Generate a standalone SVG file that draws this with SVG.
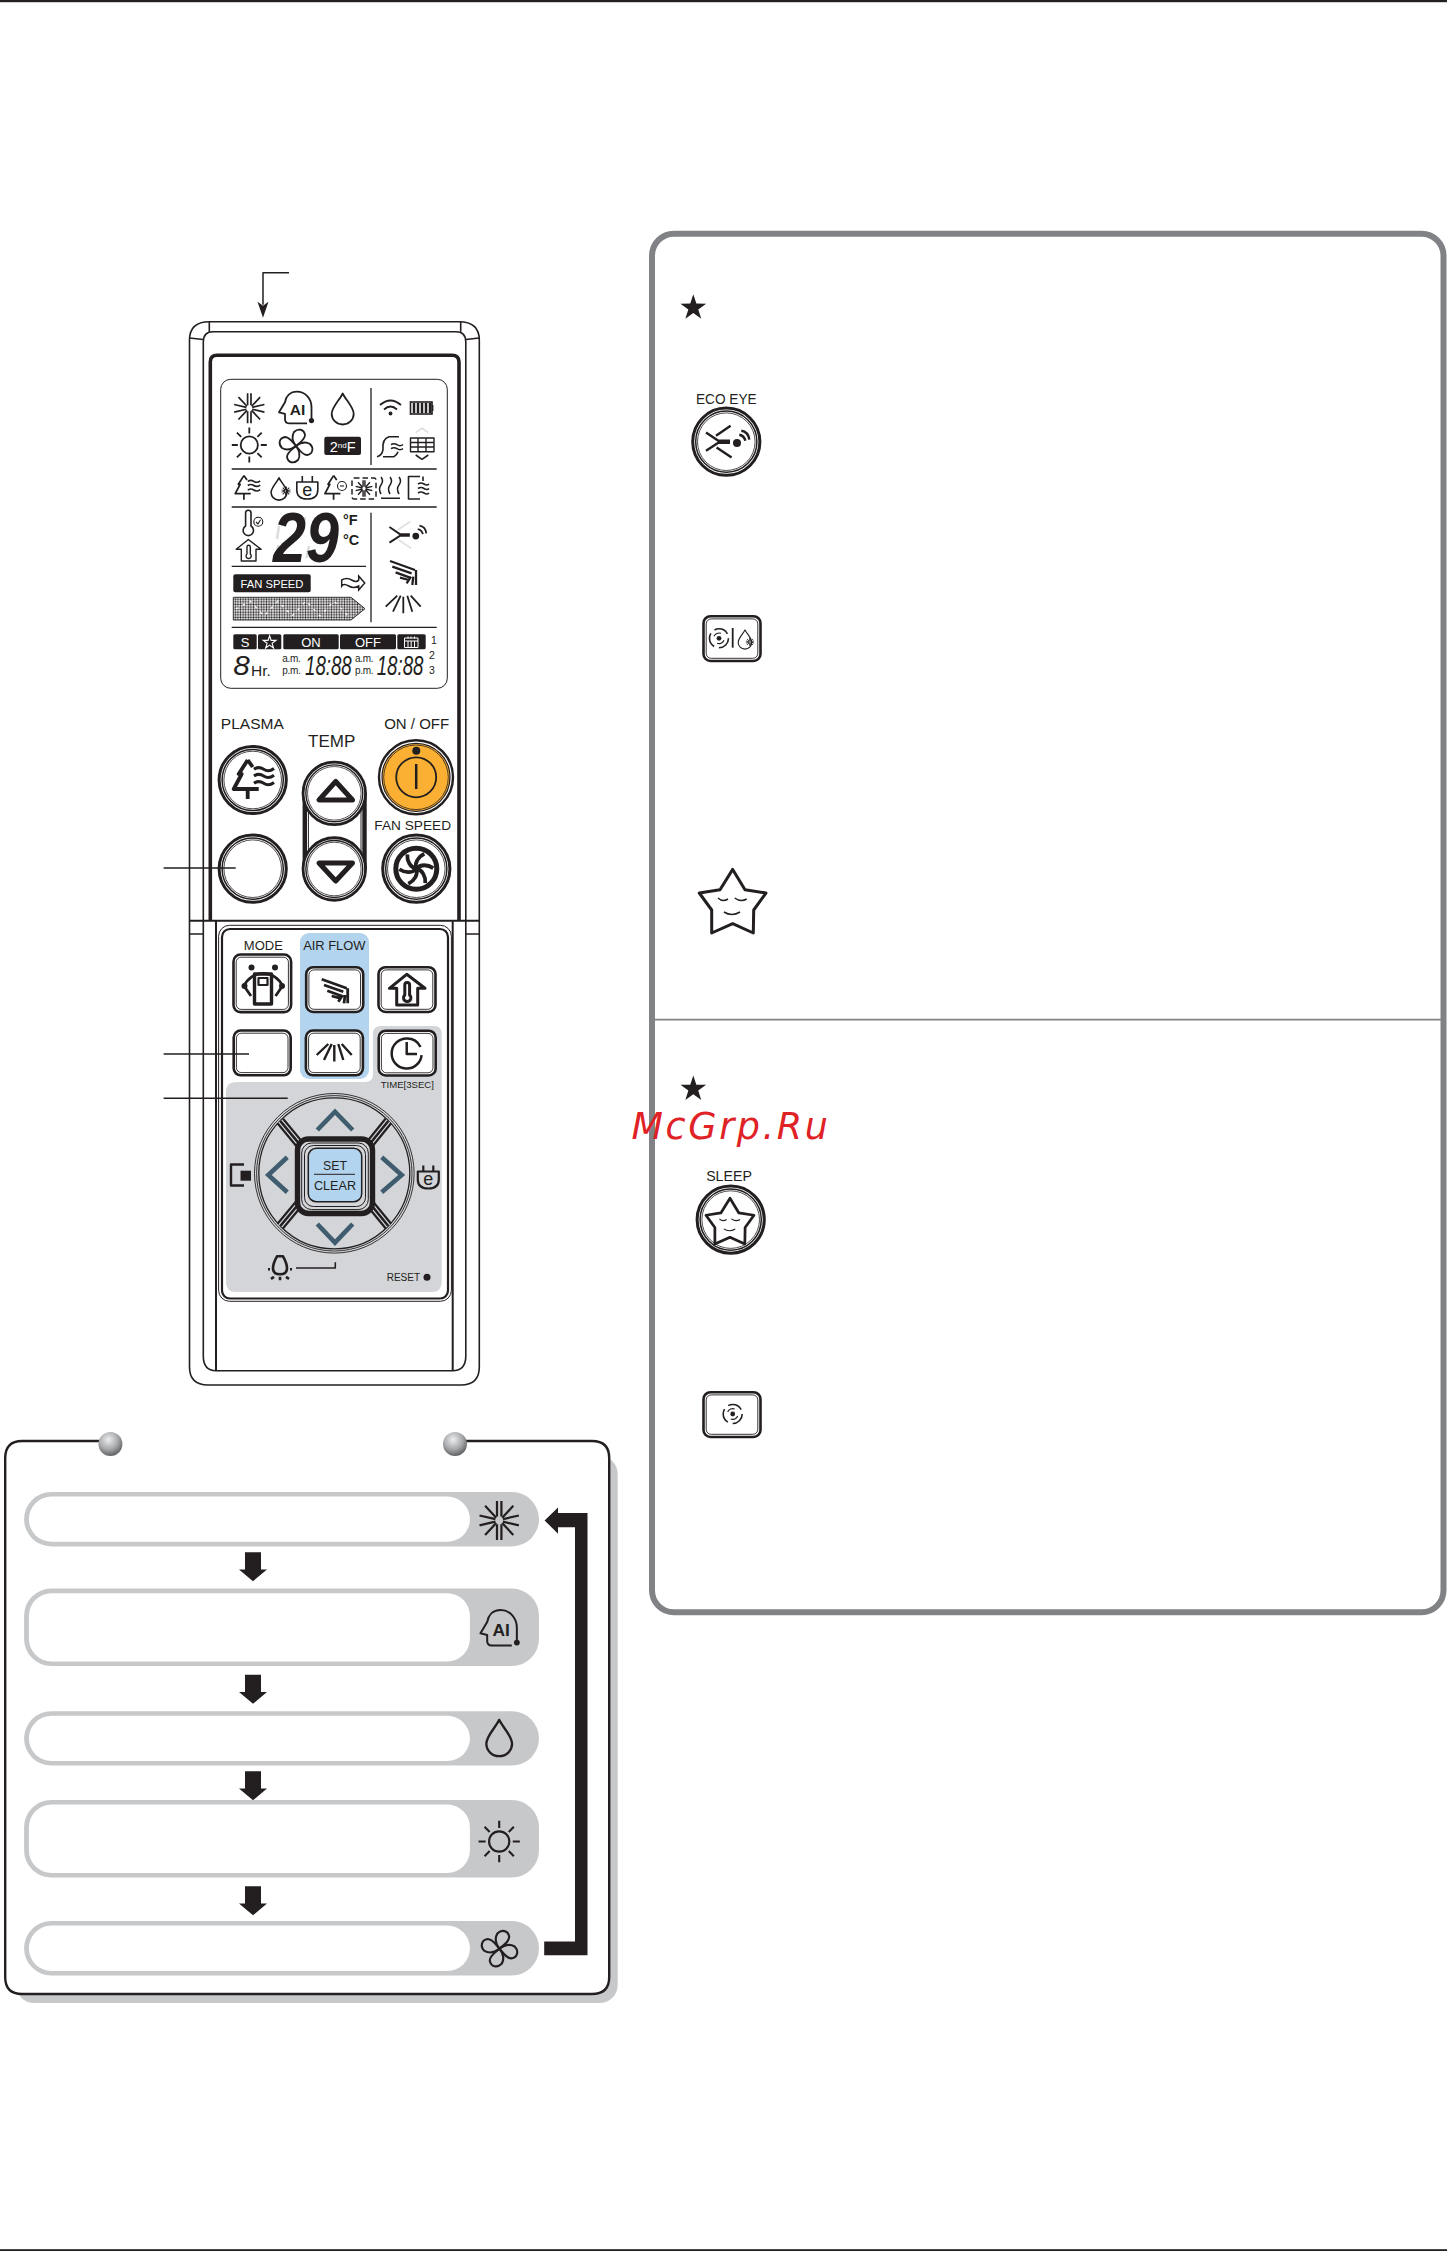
<svg xmlns="http://www.w3.org/2000/svg" xmlns:xlink="http://www.w3.org/1999/xlink" width="1447" height="2251" viewBox="0 0 1447 2251">
<style>
.k{fill:none;stroke:#231f20;stroke-width:1.8;stroke-linecap:butt;stroke-linejoin:round}
.w{fill:#fff;stroke:#231f20;stroke-width:1.6}
.t{font-family:"Liberation Sans",Arial,sans-serif;fill:#231f20;stroke:none;text-anchor:middle}
.tw{font-family:"Liberation Sans",Arial,sans-serif;fill:#fff;stroke:none;text-anchor:middle}
.ts{font-family:"Liberation Sans",Arial,sans-serif;fill:#231f20;stroke:none}
.bk{fill:#231f20;stroke:none}
.pg{fill:#c7c8ca;stroke:none}
.pw{fill:#fff;stroke:none}
.ch{fill:none;stroke:#3f5d6e;stroke-width:4.6}
.fa{fill:none;stroke:#dcddde;stroke-width:1.6}
</style>
<defs>
<radialGradient id="ball" cx="0.42" cy="0.32" r="0.72"><stop offset="0" stop-color="#eeeeee"/><stop offset="0.55" stop-color="#a7a9ac"/><stop offset="1" stop-color="#58595b"/></radialGradient>
<pattern id="dots" width="2.6" height="2.6" patternUnits="userSpaceOnUse"><rect width="2.6" height="2.6" fill="#fff"/><circle cx="1.3" cy="1.3" r="1" fill="#231f20"/></pattern>
<marker id="tip" viewBox="0 -6 16 12" markerWidth="16" markerHeight="12" refX="3" refY="0" orient="auto" markerUnits="userSpaceOnUse"><path d="M0 -5.5L4 0L0 5.5L16 0Z" fill="#231f20"/></marker>
<path id="downArrow" d="M-8 0H8V17.2H14L0 29L-14 17.2H-8Z" fill="#231f20"/>
<g id="ring"><circle r="33.6" fill="#fff" stroke="#231f20" stroke-width="3"/><circle r="30.6" fill="none" stroke="#231f20" stroke-width="1.5"/><circle r="28.8" fill="none" stroke="#231f20" stroke-width="0.8"/></g>
<g id="btn"><rect x="1.2" y="1.2" width="57" height="44.8" rx="7" fill="#fff" stroke="#231f20" stroke-width="2.6"/><rect x="3.9" y="3.9" width="51.6" height="39.4" rx="5" fill="none" stroke="#231f20" stroke-width="0.9"/></g>
<g id="snow"><path d="M-1.7 -15V-3M1.7 -15V-3M-1.7 15V3M1.7 15V3"/><g id="arm" transform="rotate(60)"><path d="M-0.6 -3L-4.3 -15M0.6 -3L4.3 -15M-0.6 3L-4.3 15M0.6 3L4.3 15"/></g><g transform="rotate(120)"><path d="M-0.6 -3L-4.3 -15M0.6 -3L4.3 -15M-0.6 3L-4.3 15M0.6 3L4.3 15"/></g></g>
<g id="ai"><path d="M15.5 12V-1C15.5 -10 9 -16.7 1 -16.7C-6 -16.7 -10 -12 -11 -6L-17 4L-11 5.5V11Q-11 15 -7 15H11"/><circle cx="15.5" cy="12.3" r="2.6" fill="#231f20" stroke="none"/><text class="t" x="1.5" y="6.5" font-size="15.5" font-weight="bold">AI</text></g>
<path id="drop" d="M0 -15.5C3 -9 11 -2 11 5A11 10.5 0 0 1 -11 5C-11 -2 -3 -9 0 -15.5Z"/>
<g id="sun"><circle r="8.6"/><path d="M0 -11.5V-17.5M0 11.5V17.5M-11.5 0H-17.5M11.5 0H17.5M8.1 -8.1L12.4 -12.4M-8.1 -8.1L-12.4 -12.4M8.1 8.1L12.4 12.4M-8.1 8.1L-12.4 12.4"/></g>
<g id="fan"><g id="petal"><path d="M0 0C-3 -4 -5 -9 -2 -14C2 -18 8 -17 9 -11C9 -6 3 -3 0 0Z"/></g><use xlink:href="#petal" transform="rotate(90)"/><use xlink:href="#petal" transform="rotate(180)"/><use xlink:href="#petal" transform="rotate(270)"/></g>
<g id="ecoflow"><path d="M-20.3 -9.3L-8 -1H3.7M-20.3 9L-8 1H3.7"/><circle cx="10.7" cy="1.3" r="4" fill="#231f20" stroke="none"/><path d="M13 -7Q18 -6 19 -1M15 -11Q22 -10 23 -2"/></g>
<g id="swH"><path d="M-13.3 -10.7L11.7 -1.7M-11 -5L8.3 1.7M-7.7 0.7L6.7 6M-3.3 6L5.7 8.3M3.3 11.7L7.7 5M9 13.3L10 5M12.7 13.3V-1.7"/></g>
<g id="swV"><path d="M-18.3 1.7L-6.7 -9.3M-11 6.7L-3.3 -9.3M-0.7 8.3V-8.3M8.3 6.7L3.3 -9.3M16.7 1.7L6.7 -9.3"/></g>
<g id="tree"><path d="M-5 -20L-14 -6H-11L-19 9H6M-5 -20L0 -13M-5 9V19"/></g>
<g id="waves"><path d="M1.3 -10.7Q6 -14 11 -10.7T21.3 -11.5M1.3 -4Q6 -7.3 11 -4T21.3 -4.8M1.3 3.3Q6 0 11 3.3T21.3 2.5"/></g>
<g id="house"><path d="M-17.3 -1.7L0 -15.7L18.3 -1.7H11V15H-10V-1.7Z"/><path transform="translate(0.5 0)" d="M-2.4 5V-5Q-2.4 -7.5 0 -7.5Q2.4 -7.5 2.4 -5V5A3.7 3.7 0 1 1 -2.4 5Z"/></g>
<g id="plug"><path d="M-10.5 -6H10.5V2Q10.5 11 0 11Q-10.5 11 -10.5 2ZM-5 -6V-12M5 -6V-12"/><text class="t" x="0" y="7.5" font-size="18">e</text></g>
<g id="swirl"><circle r="9.5" stroke-dasharray="14.9 5"/><path stroke-width="1.1" d="M-5 -2A5.5 5.5 0 0 1 2 -5M5 2A5.5 5.5 0 0 1 -2 5"/><circle r="2.4" fill="#231f20" stroke="none"/></g>
<g id="sstar"><path d="M0 -31.6L12.3 -11.2L33.3 -8L21 9L20.6 32L0 22.7L-21 32L-21 9L-33.4 -8L-12.7 -11.2Z"/><path stroke-width="1.5" d="M-14.7 -3Q-10 1.5 -4.7 -2M2 -3Q8 1.5 14 -2M-8.7 11Q-1 16 7.3 11"/></g>
<path id="bstar" d="M0 -13.5L3.06 -4.21L12.84 -4.17L4.95 1.61L7.94 10.92L0 5.2L-7.94 10.92L-4.95 1.61L-12.84 -4.17L-3.06 -4.21Z" fill="#231f20"/>
</defs>
<rect width="1447" height="2251" fill="#fff"/>
<rect id="page-top" x="0" y="0" width="1447" height="2.2" fill="#231f20"/>
<rect id="page-bottom" x="0" y="2249.2" width="1447" height="1.8" fill="#231f20"/>

<g id="remote-body">
<path class="w" d="M189.5 1367V340Q189.5 321.7 209.3 321.7H459Q479.3 321.7 479.3 340V1367Q479.3 1385 461 1385H208Q189.5 1385 189.5 1367Z"/>
<path class="k" style="stroke-width:1.6" d="M203.3 1356V342Q203.3 331.7 213 331.7H456Q465.8 331.7 465.8 342V1356Q465.8 1370.7 452.7 1370.7H216Q203.3 1370.7 203.3 1356ZM209.3 321.7V331.7M460.7 321.7V331.7M189.5 338L203.3 339.5M465.8 339.5L479.3 338M189.5 934H203.3M465.8 934H479.3"/>
<path class="k" style="stroke-width:2" d="M216 920.7V1370.7M452.7 920.7V1370.7M189.5 920.7H479.3"/>
<path class="k" style="stroke-width:3.6" d="M210.3 920V362Q210.3 355.2 217 355.2H452Q459 355.2 459 362V920"/>
</g>

<g id="lcd">
<rect x="220.7" y="379.3" width="226.6" height="309" rx="10" fill="#fff" stroke="#231f20" stroke-width="1"/>
<path class="k" style="stroke-width:1.3" d="M371 388V465M231.7 469H436.7M231.7 507H436.7M371 512.7V622.3M231.7 566.3H366M231.7 627.3H436.7"/>
<use xlink:href="#snow" class="k" style="stroke-width:1.7" transform="translate(249.3 408.3)"/>
<use xlink:href="#ai" class="k" transform="translate(296 408.3)"/>
<use xlink:href="#drop" class="k" transform="translate(342.7 409)"/>
<use xlink:href="#sun" class="k" transform="translate(249.3 445)"/>
<use xlink:href="#fan" class="k" transform="translate(296 446)"/>
<rect class="bk" x="324.3" y="436.7" width="36.7" height="18.3" rx="2"/>
<text class="tw" x="342.7" y="452" font-size="14.5">2<tspan font-size="8" dy="-4.5">nd</tspan><tspan dy="4.5">F</tspan></text>
<g id="lcd-wifi"><path class="k" d="M380 405Q390.5 396 401 405M384 409.5Q390.5 403.5 397 409.5"/><circle class="bk" cx="390.5" cy="413.5" r="1.9"/></g>
<g id="lcd-battery"><rect x="410.5" y="402" width="21.5" height="12" fill="none" stroke="#231f20" stroke-width="1.6"/><path class="k" style="stroke-width:2.5" d="M414 403V413M418 403V413M422 403V413M426 403V413M430 403V413"/><rect class="bk" x="432" y="405" width="1.4" height="6"/></g>
<g id="lcd-leaf" transform="translate(390 446.7)"><path class="k" style="stroke-width:1.6" d="M-13 10Q-8 9 -7 3Q-8 -8 -1 -10H9M-7 10H4Q7 8 8 5M1 -2Q4 -4 7 -2T13 -2M1 2Q4 0 7 2T13 2"/></g>
<g id="lcd-grid"><path class="k" style="stroke-width:1.4" d="M410.5 438H434V451.7H410.5ZM410.5 442.5H434M410.5 447H434M418 438V451.7M426 438V451.7"/><path class="k" style="stroke-width:1.6" d="M415.7 455L422 459.3L428.3 455"/><path class="fa" d="M415.7 432.7L422 428.3L428.3 432.7"/></g>
<g id="lcd-plasma" transform="translate(247 488) scale(.62)"><use xlink:href="#tree" class="k" style="stroke-width:2.8"/><use xlink:href="#waves" class="k" style="stroke-width:2.6"/></g>
<g id="lcd-dropstar"><use xlink:href="#drop" class="k" style="stroke-width:2.2" transform="translate(279 489) scale(.72)"/><use xlink:href="#snow" class="k" style="stroke-width:3" transform="translate(286 491) scale(.3)"/></g>
<use xlink:href="#plug" class="k" style="stroke-width:1.6" transform="translate(307.3 488)"/>
<g id="lcd-treeminus"><use xlink:href="#tree" class="k" style="stroke-width:2.8" transform="translate(336.7 488) scale(.62)"/><circle cx="342" cy="486" r="4.5" fill="none" stroke="#231f20" stroke-width="1.1"/><path class="k" style="stroke-width:1.1" d="M340 486H344"/></g>
<g id="lcd-snowbox"><rect x="352" y="478" width="24" height="21" rx="2" fill="none" stroke="#231f20" stroke-width="1.5" stroke-dasharray="5.5 3"/><use xlink:href="#snow" class="k" style="stroke-width:2.6" transform="translate(364 488.5) scale(.55)"/></g>
<g id="lcd-heat"><path class="k" style="stroke-width:1.5" d="M381 494Q378 489 381 485T381 477M390 494Q387 489 390 485T390 477M399 494Q396 489 399 485T399 477M381 498.3H400"/></g>
<g id="lcd-door"><path class="k" style="stroke-width:1.6" d="M420 476.5H408.5V499H420M423 476.5V481M418 484Q421 482 424 484T429 484M418 488.5Q421 486.5 424 488.5T429 488.5M418 493Q421 491 424 493T429 493"/></g>
<g id="lcd-therm"><path class="k" style="stroke-width:1.6" d="M245.6 513V526A5.2 5.2 0 1 0 251 526V513Q251 510.3 248.3 510.3Q245.6 510.3 245.6 513Z"/><circle cx="258.3" cy="521.7" r="4.5" fill="none" stroke="#231f20" stroke-width="1.1"/><path class="k" style="stroke-width:1.1" d="M256 522L258 524L260.5 519.8"/></g>
<use xlink:href="#house" class="k" style="stroke-width:2" transform="translate(248.3 550.5) scale(.7)"/>
<path class="fa" style="stroke-width:2.5" d="M279 526L277 539M305 517L302 534M278.5 545L276 558M309 546L306.5 558"/>
<text class="ts" x="273" y="561.7" font-size="70" font-weight="bold" font-style="italic" textLength="66" lengthAdjust="spacingAndGlyphs">29</text>
<text class="ts" x="343" y="525" font-size="14.5" font-weight="bold">°F</text>
<text class="ts" x="343" y="545" font-size="14.5" font-weight="bold">°C</text>
<rect class="bk" x="233.3" y="574.3" width="77.4" height="18" rx="2"/>
<text class="tw" x="272" y="588.3" font-size="11.2">FAN SPEED</text>
<path transform="translate(352.7 583)" fill="none" stroke="#231f20" stroke-width="1.5" d="M-11 -3Q-6 -6 -1 -3T6 -3V-7L12 0L6 7V3Q1 6 -4 3T-11 3Z"/>
<path d="M233.3 597.3H351L365 608.7L351 620H233.3Z" fill="url(#dots)" stroke="#231f20" stroke-width="0.9"/>
<path d="M236 609L250 601L264 616L278 601L292 616L306 601L320 616L334 601L348 616" fill="none" stroke="#fff" stroke-width="1.2" stroke-dasharray="2.6 5.2"/>
<g transform="translate(406.7 535) scale(.85)"><path class="fa" style="stroke-width:2" d="M-10.3 -6L4.3 -16M-9.7 5.7L5.3 15.7"/><use xlink:href="#ecoflow" class="k" style="stroke-width:2.2"/></g>
<use xlink:href="#swH" class="k" style="stroke-width:2.3" transform="translate(403.3 571.7)"/>
<use xlink:href="#swV" class="k" style="stroke-width:1.8" transform="translate(404 605)"/>
<rect class="bk" x="233.3" y="634.3" width="23.4" height="15" rx="1.5"/>
<text class="tw" x="245" y="647" font-size="13">S</text>
<rect class="bk" x="258" y="634.3" width="23.3" height="15" rx="1.5"/>
<path transform="translate(269.6 642.5) scale(.5)" fill="none" stroke="#fff" stroke-width="2.2" d="M0 -13.5L3.06 -4.21L12.84 -4.17L4.95 1.61L7.94 10.92L0 5.2L-7.94 10.92L-4.95 1.61L-12.84 -4.17L-3.06 -4.21Z"/>
<rect class="bk" x="283.3" y="634.3" width="55.4" height="15" rx="1.5"/>
<text class="tw" x="311" y="647" font-size="13">ON</text>
<rect class="bk" x="340" y="634.3" width="56" height="15" rx="1.5"/>
<text class="tw" x="368" y="647" font-size="13">OFF</text>
<rect class="bk" x="397.3" y="634.3" width="28.4" height="15" rx="1.5"/>
<path fill="none" stroke="#fff" stroke-width="1" d="M404.5 638H418V647.5H404.5ZM404.5 641H418M408 636.5V638.5M411 636.5V638.5M414.5 636.5V638.5M408 641V647.5M411.2 641V647.5M414.5 641V647.5"/>
<text class="t" x="434" y="644" font-size="10.5">1</text>
<text class="t" x="432" y="659" font-size="10.5">2</text>
<text class="t" x="432" y="674" font-size="10.5">3</text>
<text class="ts" x="233.3" y="675" font-size="27" font-style="italic" textLength="16.5" lengthAdjust="spacingAndGlyphs">8</text>
<text class="ts" x="251" y="675.7" font-size="15.5">Hr.</text>
<text class="ts" x="282.3" y="662.3" font-size="10" letter-spacing="-.3">a.m.</text>
<text class="ts" x="282.3" y="674" font-size="10" letter-spacing="-.3">p.m.</text>
<text class="ts" x="305" y="675" font-size="27" font-style="italic" textLength="46.7" lengthAdjust="spacingAndGlyphs">18:88</text>
<text class="ts" x="355" y="662.3" font-size="10" letter-spacing="-.3">a.m.</text>
<text class="ts" x="355" y="674" font-size="10" letter-spacing="-.3">p.m.</text>
<text class="ts" x="376.7" y="675" font-size="27" font-style="italic" textLength="46.7" lengthAdjust="spacingAndGlyphs">18:88</text>
</g>

<g id="btn-plasma">
<text class="t" x="252.3" y="729.3" font-size="15.5">PLASMA</text>
<use xlink:href="#ring" x="252.7" y="780"/>
<g transform="translate(252.7 780)"><use xlink:href="#tree" class="k" style="stroke-width:3.8"/><use xlink:href="#waves" class="k" style="stroke-width:3"/></g>
</g>
<g id="btn-blank-round"><use xlink:href="#ring" x="252.7" y="868.7"/></g>
<g id="btn-temp">
<text class="t" x="331.7" y="746.7" font-size="17">TEMP</text>
<path class="k" style="stroke-width:4.4" d="M304.8 793V869M364.5 793V869"/>
<path class="k" style="stroke-width:1" d="M308.4 793V869M361 793V869"/>
<use xlink:href="#ring" transform="translate(334.3 793.3) scale(.93)"/>
<use xlink:href="#ring" transform="translate(334.3 869) scale(.93)"/>
<path class="k" style="stroke-width:5" d="M319 800H352.5L335.7 781.5ZM319 863H352.5L335.7 881Z"/>
</g>
<g id="btn-onoff">
<text class="t" x="416.7" y="729.3" font-size="15">ON / OFF</text>
<circle cx="416" cy="777.3" r="37" fill="#fff" stroke="#231f20" stroke-width="2.4"/>
<circle cx="416" cy="777.3" r="34" fill="#fbb034" stroke="#231f20" stroke-width="1.2"/>
<circle cx="416" cy="777.3" r="32.3" fill="none" stroke="#231f20" stroke-width="0.8"/>
<circle cx="416.2" cy="777.3" r="20" fill="none" stroke="#231f20" stroke-width="1.8"/>
<path class="k" style="stroke-width:2.5" d="M416.2 764V789"/>
<circle class="bk" cx="416.3" cy="750.7" r="4"/>
</g>
<g id="btn-fanspeed">
<text class="t" x="412.7" y="830" font-size="13.7">FAN SPEED</text>
<use xlink:href="#ring" x="416.3" y="868.7"/>
<circle cx="416.3" cy="868.7" r="20.5" fill="none" stroke="#231f20" stroke-width="5"/>
<g transform="translate(416.3 868.7)" class="k" style="stroke-width:3.8"><path d="M0 0C-2 -6 2 -12 8 -15"/><path transform="rotate(60)" d="M0 0C-2 -6 2 -12 8 -15"/><path transform="rotate(120)" d="M0 0C-2 -6 2 -12 8 -15"/><path transform="rotate(180)" d="M0 0C-2 -6 2 -12 8 -15"/><path transform="rotate(240)" d="M0 0C-2 -6 2 -12 8 -15"/><path transform="rotate(300)" d="M0 0C-2 -6 2 -12 8 -15"/></g>
</g>

<g id="lower-panel">
<rect x="218.6" y="925.3" width="232.8" height="376" rx="11" fill="#fff" stroke="#231f20" stroke-width="1"/>
<rect x="222" y="929" width="226" height="369.5" rx="8" fill="#fff" stroke="#231f20" stroke-width="2.2"/>
<path d="M236 1082H365Q373 1082 373 1074V1034Q373 1026 381 1026H434Q441.7 1026 441.7 1034V1282Q441.7 1292 431.7 1292H236Q226 1292 226 1282V1092Q226 1082 236 1082Z" fill="#d3d5d9"/>
<rect x="300" y="933" width="69" height="146" rx="9" fill="#b3d4ee"/>
</g>
<g id="btn-mode">
<text class="t" x="263.3" y="950" font-size="13">MODE</text>
<rect x="233.5" y="954.5" width="57.6" height="57.6" rx="7" fill="#fff" stroke="#231f20" stroke-width="2.6"/>
<rect x="236.2" y="957.2" width="52.2" height="52.2" rx="5" fill="none" stroke="#231f20" stroke-width="0.9"/>
<path class="k" style="stroke-width:3.4" d="M254.5 974H271.5V1004H254.5Z"/>
<path class="k" style="stroke-width:2.2" d="M258.5 978H267.5V985H258.5Z"/>
<path class="k" style="stroke-width:2.8" d="M251 996L244 986A21 21 0 0 1 282.5 986L275.5 996"/>
<circle class="bk" cx="251.5" cy="967.5" r="3"/><circle class="bk" cx="275" cy="967.5" r="3"/><circle class="bk" cx="244.5" cy="986" r="3"/><circle class="bk" cx="282" cy="986" r="3"/>
</g>
<g id="btn-swing-h"><text class="t" x="334.3" y="950" font-size="12.9">AIR FLOW</text><use xlink:href="#btn" x="305" y="966"/><use xlink:href="#swH" class="k" style="stroke-width:2.8" transform="translate(335 990)"/></g>
<g id="btn-house"><use xlink:href="#btn" x="377.3" y="966"/><use xlink:href="#house" class="k" style="stroke-width:3" transform="translate(406.7 990)"/></g>
<g id="btn-blank-rect"><use xlink:href="#btn" x="232.5" y="1029.3"/></g>
<g id="btn-swing-v"><use xlink:href="#btn" x="304.7" y="1029.3"/><use xlink:href="#swV" class="k" style="stroke-width:2.4" transform="translate(335 1053.3)"/></g>
<g id="btn-timer"><use xlink:href="#btn" x="377.5" y="1029.5"/><path class="k" style="stroke-width:2.5" d="M406.7 1038.5A15 15 0 1 0 421.6 1055M406.7 1038.5A15 15 0 0 1 420.5 1047M406.7 1042V1054H417"/><text class="t" x="407.3" y="1087.7" font-size="9.6">TIME[3SEC]</text></g>

<g id="dial">
<circle cx="334.3" cy="1173.3" r="79.8" fill="none" stroke="#231f20" stroke-width="0.9"/>
<circle cx="334.3" cy="1173.3" r="77.7" fill="none" stroke="#231f20" stroke-width="0.9"/>
<circle cx="334.3" cy="1173.3" r="75.5" fill="none" stroke="#231f20" stroke-width="1.3"/>
<path class="k" style="stroke-width:9.4" d="M280.3 1121L300.7 1145.7M388.3 1121L368.3 1145.7M280.3 1226L300.7 1201.5M388.3 1226L368.3 1201.5"/>
<path fill="none" stroke="#d3d5d9" stroke-width="5" d="M280.3 1121L300.7 1145.7M388.3 1121L368.3 1145.7M280.3 1226L300.7 1201.5M388.3 1226L368.3 1201.5"/>
<path class="k" style="stroke-width:2.6" d="M280.3 1121L300.7 1145.7M388.3 1121L368.3 1145.7M280.3 1226L300.7 1201.5M388.3 1226L368.3 1201.5"/>
<rect x="297.5" y="1139" width="75" height="74.5" rx="11" fill="#d3d5d9" stroke="#231f20" stroke-width="5.4"/>
<rect x="301.7" y="1143" width="66.6" height="66.6" rx="10" fill="none" stroke="#231f20" stroke-width="1"/>
<rect x="304.5" y="1145.5" width="61" height="61" rx="9" fill="none" stroke="#231f20" stroke-width="1"/>
<rect x="308.3" y="1148.3" width="53.4" height="53.4" rx="8" fill="#b3d4ee" stroke="#231f20" stroke-width="1.5"/>
<text class="t" x="335" y="1170" font-size="12.3">SET</text>
<path class="k" style="stroke-width:1" d="M314 1174.3H355"/>
<text class="t" x="335" y="1190" font-size="12.6">CLEAR</text>
<path class="ch" d="M317.3 1130L335 1111.7L352.7 1130M287.3 1157.3L268.3 1175L287.3 1192.3M381.7 1157.3L401.7 1175L381.7 1192.3M317.3 1224L335 1242.7L352.7 1224"/>
<path class="k" style="stroke-width:2.4" d="M244 1164.5H231V1185.5H244"/><rect class="bk" x="240.5" y="1170.7" width="10.5" height="10"/>
<use xlink:href="#plug" class="k" style="stroke-width:2.2" transform="translate(428.3 1177.5)"/>
<g id="bulb" transform="translate(280 1267.3)"><path class="k" style="stroke-width:2.6" d="M-3 -11H3Q7 -4 7 1Q7 7 0 7Q-7 7 -7 1Q-7 -4 -3 -11ZM-6 9.5L-9 11.5M6 9.5L9 11.5M0 9.5V13M-10 2H-12M10 2H12"/></g>
<path class="k" style="stroke-width:1.6" d="M296 1268H335.3V1262.3"/>
<text class="ts" x="386.7" y="1281" font-size="10">RESET</text>
<circle class="bk" cx="427" cy="1277.3" r="3.5"/>
</g>

<g id="mode-cycle">
<rect class="pg" x="16" y="1456" width="601.7" height="547" rx="18"/>
<rect class="pw" x="5.2" y="1441" width="604" height="553" rx="17"/>
<path class="k" style="stroke-width:2.4" d="M110.4 1441H22Q5.2 1441 5.2 1458V1977Q5.2 1994 22 1994H592Q609.2 1994 609.2 1977V1458Q609.2 1441 592 1441H455"/>
<circle cx="110.4" cy="1444" r="12" fill="url(#ball)"/>
<circle cx="455" cy="1444" r="12" fill="url(#ball)"/>
<g id="mode-cool"><rect class="pg" x="24.1" y="1492" width="514.9" height="54.4" rx="27.2"/><rect class="pw" x="28.9" y="1496.6" width="441" height="45.2" rx="22.6"/><use xlink:href="#snow" class="k" style="stroke-width:1.7" transform="translate(499.2 1520.4) scale(1.3)"/></g>
<g id="mode-ai"><rect class="pg" x="24.1" y="1588.6" width="514.9" height="77.4" rx="27"/><rect class="pw" x="28.9" y="1593.2" width="441" height="68.2" rx="22.6"/><use xlink:href="#ai" class="k" style="stroke-width:1.8" transform="translate(499.5 1628.8) scale(1.12)"/></g>
<g id="mode-dry"><rect class="pg" x="24.1" y="1711.2" width="514.9" height="54.4" rx="27.2"/><rect class="pw" x="28.9" y="1715.8" width="441" height="45.2" rx="22.6"/><use xlink:href="#drop" class="k" style="stroke-width:2" transform="translate(499.2 1738) scale(1.17)"/></g>
<g id="mode-heat"><rect class="pg" x="24.1" y="1800" width="514.9" height="77.5" rx="27"/><rect class="pw" x="28.9" y="1804.6" width="441" height="68.3" rx="22.6"/><use xlink:href="#sun" class="k" style="stroke-width:1.8" transform="translate(499.2 1841.5) scale(1.18)"/></g>
<g id="mode-fan"><rect class="pg" x="24.1" y="1921" width="514.9" height="54.6" rx="27.3"/><rect class="pw" x="28.9" y="1925.6" width="441" height="45.4" rx="22.6"/><use xlink:href="#fan" class="k" style="stroke-width:2" transform="translate(499.5 1948.7) scale(1.08)"/></g>
</g>

<g id="info-panel">
<rect x="652" y="233.7" width="791.5" height="1378.6" rx="22" fill="#fff" stroke="#808285" stroke-width="6"/>
<path d="M655 1019.6H1441" stroke="#808285" stroke-width="1.8" fill="none"/>
<use xlink:href="#bstar" x="693.3" y="307.8"/>
<g id="btn-ecoeye"><text class="t" x="726.3" y="404" font-size="15" textLength="60.7" lengthAdjust="spacingAndGlyphs">ECO EYE</text><use xlink:href="#ring" x="726.3" y="441.7"/><g transform="translate(726.3 441.7)"><use xlink:href="#ecoflow" class="k" style="stroke-width:2.4"/><path class="k" style="stroke-width:2.4" d="M-10.3 -6L4.3 -16M-9.7 5.7L5.3 15.7"/></g></g>
<g id="btn-jetplasma"><use xlink:href="#btn" x="702.3" y="615"/><use xlink:href="#swirl" class="k" style="stroke-width:1.6" transform="translate(719 638.3)"/><path class="k" style="stroke-width:1.8" d="M732.7 628V647.7"/><use xlink:href="#drop" class="k" style="stroke-width:1.8" transform="translate(745 639.5) scale(.62)"/><use xlink:href="#snow" class="k" style="stroke-width:2.8" transform="translate(750 642) scale(.27)"/></g>
<use xlink:href="#sstar" id="sleepy-star" class="k" style="stroke-width:3" transform="translate(732.7 901)"/>
<use xlink:href="#bstar" x="693.3" y="1089"/>
<g id="btn-sleep"><text class="t" x="729" y="1180.8" font-size="14.2">SLEEP</text><use xlink:href="#ring" x="730.7" y="1219.6"/><use xlink:href="#sstar" class="k" style="stroke-width:3.8" transform="translate(730 1221) scale(.72)"/></g>
<g id="btn-jet"><use xlink:href="#btn" x="702.3" y="1391"/><use xlink:href="#swirl" class="k" style="stroke-width:1.6" transform="translate(732.7 1414)"/></g>
</g>

<g id="connectors">
<path class="k" style="stroke-width:1.5" marker-end="url(#tip)" d="M289 272.7H263V304.7"/>
<path class="k" style="stroke-width:1.5" d="M163.6 868H235.7M163.6 1054H249M163.6 1098.3H287.7"/>
<use xlink:href="#downArrow" x="253" y="1552.2"/>
<use xlink:href="#downArrow" x="253" y="1674.8"/>
<use xlink:href="#downArrow" x="253" y="1771.3"/>
<use xlink:href="#downArrow" x="253" y="1886.3"/>
<path d="M544.2 1941.5H575V1527.3H558V1533.8L544.6 1520.4L558 1507.4V1513H587.5V1955.2H544.2Z" fill="#231f20"/>
</g>

<text id="watermark" x="631.5" y="1139.3" font-family="'DejaVu Sans',sans-serif" font-style="italic" font-size="36.5" letter-spacing="2.6" fill="#e02226">McGrp.Ru</text>
</svg>
